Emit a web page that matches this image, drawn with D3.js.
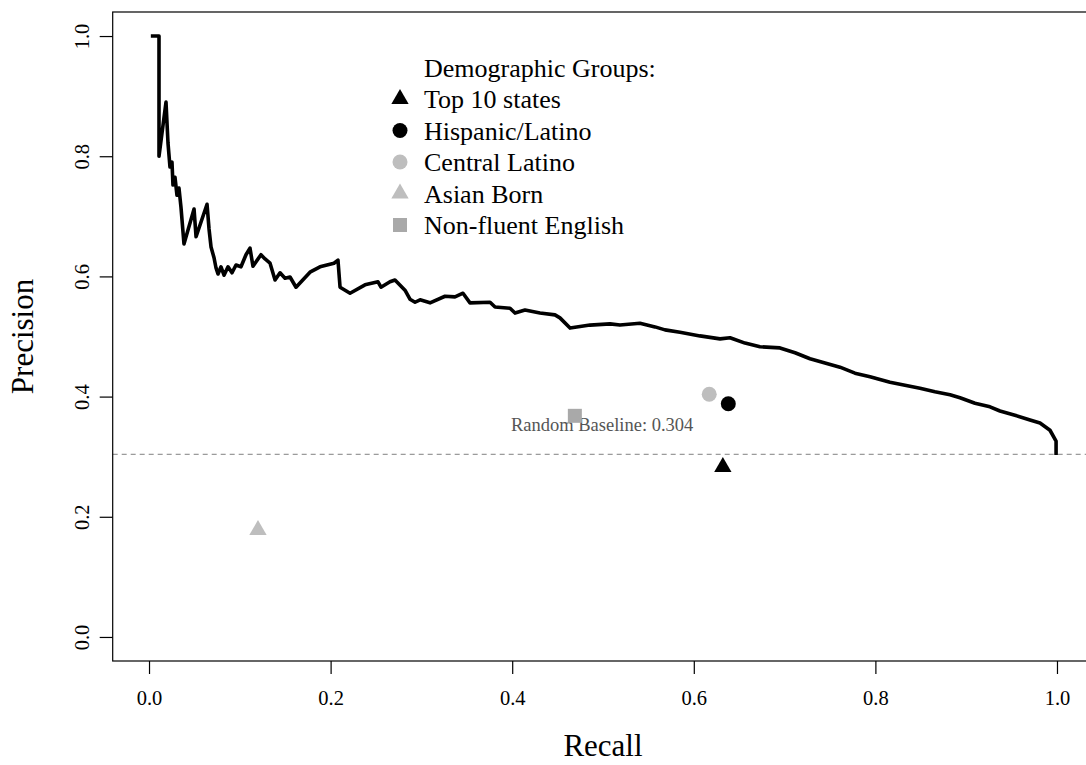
<!DOCTYPE html>
<html>
<head>
<meta charset="utf-8">
<script src="https://cdn.jsdelivr.net/npm/d3@7"></script>
<style>
  html, body { margin: 0; padding: 0; background: #fff; }
  svg { display: block; font-family: "Liberation Serif", "DejaVu Serif", serif; }
</style>
</head>
<body>
<svg id="chart" width="1086" height="765"></svg>
<script>
// ---- Data ----
const recall = [0.002,0.011,0.011,0.0187,0.0209,0.0231,0.0253,0.0264,0.0286,0.0308,0.0330,0.0352,0.0385,0.0496,0.0518,0.0639,0.0661,0.0683,0.0716,0.0738,0.0760,0.0793,0.0826,0.0870,0.0914,0.0958,0.1013,0.1068,0.1112,0.1145,0.1233,0.1278,0.1333,0.1388,0.1443,0.1498,0.1553,0.1619,0.1773,0.1883,0.2037,0.2081,0.2104,0.2214,0.2379,0.2522,0.2555,0.2654,0.2709,0.2819,0.2874,0.2930,0.2985,0.3095,0.3260,0.3370,0.3458,0.3535,0.3756,0.3811,0.3976,0.4031,0.4141,0.4306,0.4471,0.4526,0.4637,0.4857,0.5077,0.5187,0.5407,0.5573,0.5683,0.5848,0.6068,0.6289,0.6399,0.6564,0.6729,0.6949,0.7115,0.7280,0.7445,0.7610,0.7775,0.7941,0.8161,0.8326,0.8491,0.8656,0.8822,0.8932,0.9097,0.9262,0.9372,0.9537,0.9703,0.9813,0.9923,0.999,0.999];
const precision = [1.000,1.000,0.800,0.890,0.822,0.782,0.790,0.752,0.765,0.735,0.747,0.715,0.654,0.712,0.666,0.720,0.679,0.649,0.631,0.614,0.604,0.616,0.602,0.616,0.606,0.619,0.616,0.636,0.647,0.617,0.636,0.629,0.622,0.594,0.606,0.597,0.599,0.582,0.607,0.616,0.622,0.627,0.582,0.572,0.586,0.591,0.582,0.591,0.594,0.577,0.562,0.557,0.561,0.556,0.567,0.566,0.572,0.556,0.557,0.549,0.547,0.539,0.544,0.539,0.536,0.531,0.514,0.519,0.521,0.519,0.522,0.516,0.511,0.507,0.501,0.496,0.498,0.489,0.483,0.481,0.473,0.463,0.456,0.449,0.439,0.433,0.424,0.419,0.414,0.408,0.403,0.398,0.389,0.383,0.376,0.369,0.361,0.356,0.344,0.326,0.303];

const groups = ["Top 10 states", "Hispanic/Latino", "Central Latino", "Asian Born", "Non-fluent English"];
const groupRecall = [0.632, 0.638, 0.617, 0.120, 0.469];
const groupPrecision = [0.283, 0.388, 0.404, 0.178, 0.368];
const baseline = 0.304;

const xTicks = [0.0, 0.2, 0.4, 0.6, 0.8, 1.0];
const yTicks = [0.0, 0.2, 0.4, 0.6, 0.8, 1.0];

// ---- Styles (separate from data) ----
const groupStyle = {
  "Top 10 states":      { shape: "triangle", color: "#000000" },
  "Hispanic/Latino":    { shape: "circle",   color: "#000000" },
  "Central Latino":     { shape: "circle",   color: "#bebebe" },
  "Asian Born":         { shape: "triangle", color: "#bebebe" },
  "Non-fluent English": { shape: "square",   color: "#a9a9a9" }
};

const svg = d3.select("#chart");
const x = d3.scaleLinear().domain([-0.04, 1.04]).range([112.7, 1093.3]);
const y = d3.scaleLinear().domain([-0.04, 1.04]).range([661, 12]);

// Baseline
svg.append("line")
  .attr("x1", x(-0.04)).attr("x2", x(1.04))
  .attr("y1", y(baseline)).attr("y2", y(baseline))
  .attr("stroke", "#808080").attr("stroke-width", 1)
  .attr("stroke-dasharray", "5,4");

// PR curve
const line = d3.line().x((d, i) => x(recall[i])).y((d, i) => y(precision[i]));
svg.append("path")
  .datum(recall)
  .attr("d", line)
  .attr("fill", "none")
  .attr("stroke", "#000")
  .attr("stroke-width", 3.6)
  .attr("stroke-linejoin", "round")
  .attr("stroke-linecap", "butt");

// Marker drawing
function drawMarker(g, shape, cx, cy, color) {
  if (shape === "circle") {
    g.append("circle").attr("cx", cx).attr("cy", cy).attr("r", 7.5).attr("fill", color);
  } else if (shape === "square") {
    g.append("rect").attr("x", cx - 7).attr("y", cy - 7).attr("width", 14).attr("height", 14).attr("fill", color);
  } else {
    const s = d3.symbol().type(d3.symbolTriangle).size(130);
    g.append("path").attr("d", s()).attr("transform", `translate(${cx},${cy})`).attr("fill", color);
  }
}

// Random baseline label
svg.append("text")
  .attr("x", x(0.499)).attr("y", y(baseline) - 23)
  .attr("text-anchor", "middle")
  .attr("font-size", 18.5)
  .attr("fill", "#555")
  .text("Random Baseline: " + baseline.toFixed(3));

// Group points
const pts = svg.append("g");
groups.forEach((gname, i) => {
  const st = groupStyle[gname];
  drawMarker(pts, st.shape, x(groupRecall[i]), y(groupPrecision[i]), st.color);
});

// Box
svg.append("rect")
  .attr("x", x(-0.04)).attr("y", y(1.04))
  .attr("width", x(1.04) - x(-0.04)).attr("height", y(-0.04) - y(1.04))
  .attr("fill", "none").attr("stroke", "#000").attr("stroke-width", 1.2);

// Axes
const xAxis = svg.append("g")
  .attr("transform", `translate(0,${y(-0.04)})`)
  .call(d3.axisBottom(x).tickValues(xTicks).tickFormat(d3.format(".1f")).tickSize(13).tickPadding(16));
xAxis.select(".domain").remove();
xAxis.selectAll("line").attr("stroke", "#000").attr("stroke-width", 1.2);
xAxis.selectAll("text").attr("font-size", 20.5).attr("fill", "#000")
  .attr("font-family", "Liberation Serif, serif");

const yAxis = svg.append("g")
  .attr("transform", `translate(${x(-0.04)},0)`)
  .call(d3.axisLeft(y).tickValues(yTicks).tickFormat(d3.format(".1f")).tickSize(13).tickPadding(0));
yAxis.select(".domain").remove();
yAxis.selectAll("line").attr("stroke", "#000").attr("stroke-width", 1.2);
yAxis.selectAll(".tick text").each(function() {
  d3.select(this)
    .attr("font-size", 20.5).attr("fill", "#000")
    .attr("font-family", "Liberation Serif, serif")
    .attr("text-anchor", "middle")
    .attr("transform", `translate(-31,0) rotate(-90)`)
    .attr("x", 0).attr("y", 0).attr("dy", "0.35em");
});

// Axis titles
svg.append("text")
  .attr("x", x(0.5)).attr("y", 756)
  .attr("text-anchor", "middle")
  .attr("font-size", 31)
  .text("Recall");
svg.append("text")
  .attr("transform", `translate(33,${y(0.5)}) rotate(-90)`)
  .attr("text-anchor", "middle")
  .attr("font-size", 31)
  .text("Precision");

// Legend
const leg = svg.append("g");
leg.append("text").attr("x", 424).attr("y", 77).attr("font-size", 26).text("Demographic Groups:");
groups.forEach((gname, i) => {
  const cy = 99 + i * 31.5;
  const st = groupStyle[gname];
  drawMarker(leg, st.shape, 400, cy, st.color);
  leg.append("text").attr("x", 424).attr("y", cy + 9).attr("font-size", 26).text(gname);
});
</script>
</body>
</html>
